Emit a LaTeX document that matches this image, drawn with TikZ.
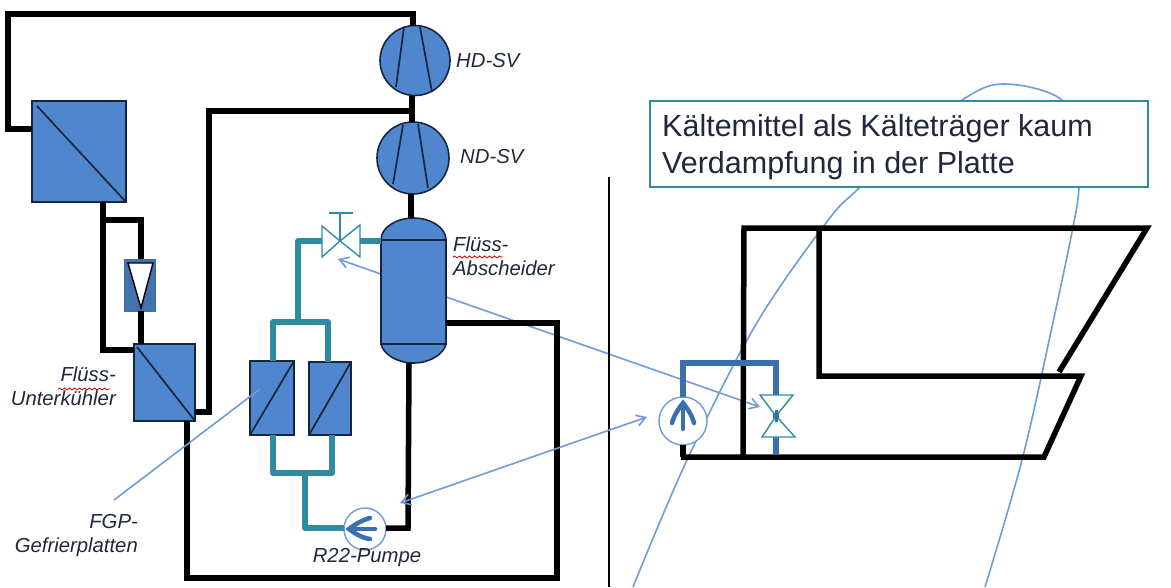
\documentclass[tikz,border=0pt]{standalone}
\usepackage{fontspec}
\setmainfont{Liberation Sans}
\usetikzlibrary{arrows.meta,decorations.pathmorphing}
\definecolor{fillblue}{HTML}{4F86CE}
\definecolor{darkline}{HTML}{16263F}
\definecolor{tealpipe}{HTML}{2F8CA0}
\definecolor{pumpblue}{HTML}{3A6FAE}
\definecolor{thinblue}{HTML}{6F9CD9}
\definecolor{labelcol}{HTML}{20283C}
\tikzset{
  blackpipe/.style={line width=5.5pt,black,line join=miter},
  tealline/.style={line width=5.5pt,tealpipe,line join=round},
  bluepipe/.style={line width=5.5pt,pumpblue,line join=miter},
  leader/.style={line width=1.6pt,thinblue},
  arrowlead/.style={leader,{Straight Barb[length=9pt,width=11pt,line width=1.6pt]}-{Straight Barb[length=9pt,width=11pt,line width=1.6pt]}},
  hxbox/.style={draw=darkline,line width=1.6pt,fill=fillblue,outer sep=0pt,inner sep=0pt},
  compressor/.style={circle,draw=darkline,line width=1.6pt,fill=fillblue,outer sep=0pt,inner sep=0pt},
  blade/.style={darkline,line width=1.7pt},
  pumpring/.style={circle,draw=thinblue,line width=1.4pt,fill=white,outer sep=0pt,inner sep=0pt},
  pumparrow/.style={pumpblue,line width=4.5pt,line cap=round},
  valveshape/.style={draw=tealpipe,line width=1.4pt,fill=white,line join=miter},
  lab/.style={font=\fontsize{20.3}{24}\selectfont\itshape,text=labelcol,inner sep=0pt},
  squiggle/.style={red!85!black,line width=0.8pt,decorate,decoration={snake,amplitude=1pt,segment length=5pt}}
}
\begin{document}
\begin{tikzpicture}[x=1pt,y=-1pt]
\useasboundingbox (0,0) rectangle (1171,587);
\fill[white] (0,0) rectangle (1171,587);

% free ends of the thin lines
\coordinate (c1) at (633,587); \coordinate (c2) at (687,460); \coordinate (c3) at (755,326);
\coordinate (c4) at (826,223); \coordinate (c5) at (857,190); \coordinate (c5b) at (905,145); \coordinate (c6) at (962,100);
\coordinate (c7) at (1004,84); \coordinate (c8) at (1062,100); \coordinate (c8b) at (1079,145); \coordinate (c9) at (1079,188);
\coordinate (c10) at (1073,227); \coordinate (c11) at (1052,327); \coordinate (c12) at (1022,460);
\coordinate (c13) at (985,587);
\draw[leader] plot[smooth,tension=0.6] coordinates {(c1) (c2) (c3) (c4) (c5) (c5b) (c6) (c7) (c8) (c8b) (c9) (c10) (c11) (c12) (c13)};

\coordinate (arrA) at (338,259); \coordinate (arrB) at (760,407);
\draw[arrowlead] (arrA) -- (arrB);

% divider
\coordinate (divT) at (609,177); \coordinate (divB) at (609,587);
\draw[black,line width=1.6pt] (divT) -- (divB);

% text box
\node[draw=tealpipe,line width=1.4pt,fill=white,minimum width=498pt,minimum height=86pt,inner sep=0pt,outer sep=0pt] (note) at (899,144) {};
\node[anchor=west,align=left,inner sep=0pt,text=labelcol,font=\fontsize{30.5}{36.5}\selectfont] (notetext) at (662,147) {Kältemittel als Kälteträger kaum\\Verdampfung in der Platte};

% left equipment
\node[hxbox,minimum width=94pt,minimum height=101pt] (hxa) at (79,151.5) {};
\node[hxbox,minimum width=61pt,minimum height=77pt] (hxb) at (164.5,382.5) {};
\node[compressor,minimum size=70pt] (hd) at (415,60.5) {};
\node[compressor,minimum size=72pt] (nd) at (413,158) {};
\node[hxbox,minimum width=44pt,minimum height=74pt] (fa) at (272,398) {};
\node[hxbox,minimum width=42pt,minimum height=73pt] (fb) at (330,398.5) {};
\node[hxbox,minimum width=65pt,minimum height=104pt] (sep) at (413.5,292) {};
\node[draw=pumpblue,line width=1pt,fill=fillblue!85!black,minimum width=31pt,minimum height=52pt,inner sep=0pt,outer sep=0pt] (chk) at (139.5,285) {};
\node[pumpring,minimum size=42pt] (pumpa) at (365,529) {};
\node[pumpring,minimum size=48pt] (pumpb) at (683,421) {};

% separator caps
\draw[hxbox] (sep.north west) .. controls (381,227) and (397,218) .. (413.5,218) .. controls (430,218) and (446,227) .. (sep.north east) -- cycle;
\draw[hxbox] (sep.south west) .. controls (383,354) and (397,363) .. (413.5,363) .. controls (430,363) and (444,354) .. (sep.south east) -- cycle;
\coordinate (sepT) at (411,218); \coordinate (sepB) at (409,363);

% exchanger diagonals and compressor blades
\draw[blade] (37,106) -- (hxa.south east);
\draw[blade] (137,347) -- (hxb.south east);
\draw[blade] (fa.south west) -- (fa.north east);
\draw[blade] (fb.south west) -- (fb.north east);
\draw[blade] (404,27) -- (396,87);
\draw[blade] (420,27) -- (432,92);
\draw[blade] (403,125) -- (393,184);
\draw[blade] (418,124) -- (428,188);

% check valve
\coordinate (chkA) at (128,263); \coordinate (chkB) at (153,263); \coordinate (chkC) at (141,308);
\fill[white] (chkA) -- (chkB) -- (chkC) -- cycle;
\draw[black,line width=1.4pt,line join=miter] (chkA) -- (chkB) -- (chkC) -- cycle;

% black pipes, upper left loop
\coordinate (p1) at (8,14); \coordinate (p2) at (413,14); \coordinate (p3) at (8,129);
\draw[blackpipe] (hd.north -| p2) |- (p1) |- (hxa.west |- p3);
\coordinate (p4) at (103,220); \coordinate (p5) at (141,220); \coordinate (p6) at (103,350);
\draw[blackpipe] (hxa.south -| p6) -- (p6) -- (hxb.west |- p6);
\draw[blackpipe] (p4) -- (p5) -- (chk.north -| p5);
\draw[blackpipe] (chk.south -| p5) -- (hxb.north -| p5);
\coordinate (p7) at (209,412); \coordinate (p8) at (209,111);
\draw[blackpipe] (hxb.east |- p7) -- (p7) -- (p8) -- (411,111);
\draw[blackpipe] (hd.south -| 412,0) -- (nd.north -| 412,0);
\draw[blackpipe] (nd.south -| sepT) -- (sepT);
\coordinate (p9) at (557,323); \coordinate (p10) at (557,578); \coordinate (p11) at (187,578);
\draw[blackpipe] (sep.east |- p9) -- (p9) -- (p10) -- (p11) -- (hxb.south -| p11);
\coordinate (p12) at (408,528);
\draw[blackpipe] (sepB) -- (p12) -- (pumpa.east |- p12);

% stop valve with stem
\coordinate (vm) at (340,241); \coordinate (vl) at (322,226); \coordinate (vl2) at (322,257);
\coordinate (vr) at (360,225); \coordinate (vr2) at (360,257);
\coordinate (stT) at (340,213); \coordinate (stL) at (329,213); \coordinate (stR) at (353,213);
\draw[valveshape] (vm) -- (vl) -- (vl2) -- cycle;
\draw[valveshape] (vm) -- (vr) -- (vr2) -- cycle;
\draw[tealpipe,line width=2.4pt] (vm) -- (stT) (stL) -- (stR);

% teal pipes
\coordinate (t1) at (298,241); \coordinate (t2) at (298,322); \coordinate (t3) at (273,322);
\coordinate (t4) at (328,322); \coordinate (t5) at (273,473); \coordinate (t6) at (332,473);
\coordinate (t7) at (305,473); \coordinate (t8) at (305,528);
\draw[tealline] (sep.west |- vm) -- (360,241);
\draw[tealline] (322,241) -- (t1) -- (t2);
\draw[tealline] (fa.north -| t3) -- (t3) -- (t4) -- (fb.north -| t4);
\draw[tealline] (fa.south -| t5) -- (t5) -- (t6) -- (fb.south -| t6);
\draw[tealline] (t7) -- (t8) -- (pumpa.west |- t8);

% left pump arrow
\draw[pumparrow] (349,529) -- (375,529);
\draw[pumparrow] (370,518) .. controls (362,520) and (354,525) .. (349,529) .. controls (354,533) and (362,538) .. (370,539);

% right-hand loop
\coordinate (q1) at (744,228); \coordinate (q2) at (1147,228); \coordinate (q3) at (1059,372);
\draw[blackpipe,line join=miter] (q3) -- (q2) -- (q1) -- (743,457);
\coordinate (q4) at (819,231); \coordinate (q5) at (819,376); \coordinate (q6) at (1081,376);
\coordinate (q7) at (1044,457); \coordinate (q8) at (681,457);
\draw[blackpipe] (q4) -- (q5) -- (q6) -- (q7) -- (q8);
\coordinate (r1) at (683,363); \coordinate (r2) at (776,363);
\coordinate (w1) at (760,395); \coordinate (w2) at (793,395); \coordinate (w3) at (776,416);
\coordinate (w4) at (762,437); \coordinate (w5) at (795,437);
\draw[bluepipe] (pumpb.north) -- (r1) -- (r2) -- (w3);
\draw[bluepipe] (w3) -- (776,455);
\draw[blackpipe] (pumpb.south) -- (683,457);
\draw[valveshape,fill=white] (w1) -- (w2) -- (w3) -- cycle;
\draw[valveshape,fill=white] (w4) -- (w5) -- (w3) -- cycle;
\draw[pumpblue,line width=3pt] (776,410) -- (776,422);
\draw[pumparrow] (683,403) -- (683,429);
\draw[pumparrow] (672,423) .. controls (674,415) and (679,408) .. (683,403) .. controls (687,408) and (692,415) .. (694,423);

% thin lines over the pipes
\coordinate (arrC) at (400,503); \coordinate (arrD) at (647,417);
\draw[arrowlead] (arrC) -- (arrD);
\coordinate (leadA) at (114,500); \coordinate (leadB) at (260,389);
\draw[leader] (leadA) -- (leadB);

% labels
\node[lab,anchor=west] (lhd) at (456,61) {HD-SV};
\node[lab,anchor=west] (lnd) at (460,157) {ND-SV};
\node[lab,anchor=north west,align=left] (lab1) at (453,237) {Flüss-\\Abscheider};
\node[lab,anchor=north east,align=right] (lab2) at (116,367) {Flüss-\\Unterkühler};
\node[lab,anchor=north east,align=right] (lab3) at (138,514) {FGP-\\Gefrierplatten};
\node[lab] (lab4) at (367,558) {R22-Pumpe};
\coordinate (s1) at (453,257); \coordinate (s2) at (503,257);
\coordinate (s3) at (58,389); \coordinate (s4) at (110,389);
\draw[squiggle] (s1) -- (s2);
\draw[squiggle] (s3) -- (s4);
\end{tikzpicture}
\end{document}
